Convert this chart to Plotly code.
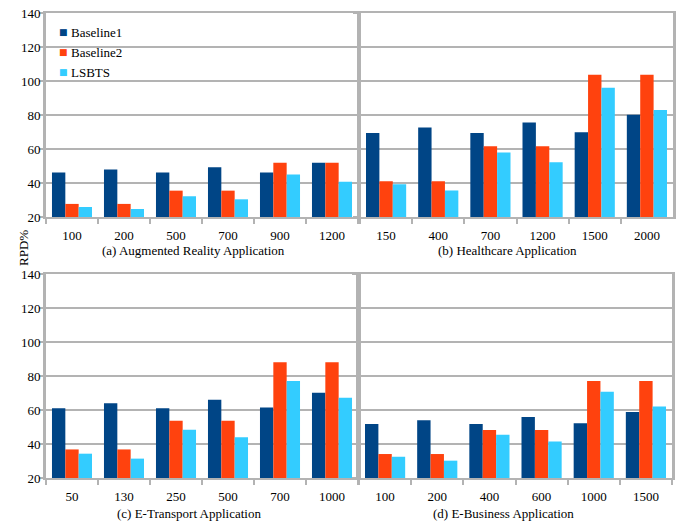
import plotly.graph_objects as go

# Problem sizes per application
cats_ar = ["100", "200", "500", "700", "900", "1200"]
cats_hc = ["150", "400", "700", "1200", "1500", "2000"]
cats_et = ["50", "130", "250", "500", "700", "1000"]
cats_eb = ["100", "200", "400", "600", "1000", "1500"]

# RPD% values per method
ar_baseline1 = [46.2, 47.9, 46.2, 49.3, 46.2, 51.9]
ar_baseline2 = [27.7, 27.7, 35.5, 35.5, 51.9, 51.9]
ar_lsbts = [25.9, 24.7, 32.2, 30.4, 45.0, 40.7]

hc_baseline1 = [69.4, 72.7, 69.4, 75.6, 69.8, 80.1]
hc_baseline2 = [41.1, 41.1, 61.6, 61.6, 103.7, 103.7]
hc_lsbts = [39.3, 35.6, 58.0, 52.2, 96.1, 83.0]

et_baseline1 = [61.1, 63.9, 61.1, 66.0, 61.5, 70.1]
et_baseline2 = [36.8, 36.8, 53.7, 53.7, 88.1, 88.1]
et_lsbts = [34.3, 31.4, 48.4, 43.9, 77.0, 67.2]

eb_baseline1 = [51.8, 53.9, 51.8, 55.9, 52.2, 58.8]
eb_baseline2 = [34.1, 34.1, 48.2, 48.2, 77.1, 77.1]
eb_lsbts = [32.5, 30.2, 45.5, 41.4, 70.8, 62.0]

panel_titles = ["(a) Augmented Reality Application", "(b) Healthcare Application",
                "(c) E-Transport Application", "(d) E-Business Application"]
method_names = ["Baseline1", "Baseline2", "LSBTS"]
colors = ["#004586", "#ff420e", "#33ccff"]

W, H = 678, 523
FONT = "Liberation Serif, Times New Roman, serif"
GRID = "#b3b3b3"

panels = [
    (cats_ar, [ar_baseline1, ar_baseline2, ar_lsbts]),
    (cats_hc, [hc_baseline1, hc_baseline2, hc_lsbts]),
    (cats_et, [et_baseline1, et_baseline2, et_lsbts]),
    (cats_eb, [eb_baseline1, eb_baseline2, eb_lsbts]),
]

# pixel boxes of the four plot areas: (left, right, top, bottom)
boxes = [(46, 358, 13, 217), (360, 673, 13, 217),
         (46, 358, 274, 478), (359, 672, 274, 478)]

fig = go.Figure()
layout = {}
for i, ((cats, series), (l, r, t, b)) in enumerate(zip(panels, boxes)):
    n = "" if i == 0 else str(i + 1)
    for j, vals in enumerate(series):
        fig.add_trace(go.Bar(
            x=cats, y=vals, name=method_names[j],
            marker=dict(color=colors[j], line=dict(width=0)),
            xaxis="x" + n, yaxis="y" + n, showlegend=False,
        ))
    layout["xaxis" + n] = dict(
        domain=[l / W, r / W], anchor="y" + n, type="category", automargin=False,
        showline=True, linecolor=GRID, linewidth=2, mirror=True,
        ticks="outside", tickson="boundaries", ticklen=5, tickcolor=GRID, tickwidth=1.5,
        ticklabelstandoff=5,
        showgrid=False, tickfont=dict(family=FONT, size=13, color="#000"),
    )
    layout["yaxis" + n] = dict(
        domain=[1 - b / H, 1 - t / H], anchor="x" + n, automargin=False,
        range=[20, 140], dtick=20, tick0=20,
        showline=True, linecolor=GRID, linewidth=3, mirror=True,
        showgrid=True, gridcolor=GRID, gridwidth=2,
        ticks="outside", ticklen=4, tickcolor=GRID, tickwidth=1.5,
        ticklabelstandoff=-4,
        showticklabels=(i % 2 == 0), zeroline=False,
        tickfont=dict(family=FONT, size=13, color="#000"),
    )

title_pos = [(193, 251), (507, 251), (189, 513), (503, 513)]
annotations = []
for txt, (x, y) in zip(panel_titles, title_pos):
    annotations.append(dict(
        text=txt, x=x / W, y=1 - y / H, xref="paper", yref="paper",
        xanchor="center", yanchor="middle", showarrow=False,
        font=dict(family=FONT, size=13, color="#000"),
    ))
annotations.append(dict(
    text="RPD%", x=23 / W, y=1 - 248 / H, xref="paper", yref="paper",
    xanchor="center", yanchor="middle", showarrow=False, textangle=-90,
    font=dict(family=FONT, size=13, color="#000"),
))

# legend key inside panel (a): small colour square followed by the method name
legend_rows = [31.5, 51.5, 72]
for name, color, yy in zip(method_names, colors, legend_rows):
    annotations.append(dict(
        text="■", x=63 / W, y=1 - yy / H, xref="paper", yref="paper",
        xanchor="center", yanchor="middle", showarrow=False,
        font=dict(family="DejaVu Sans", size=9, color=color),
    ))
    annotations.append(dict(
        text=name, x=69 / W, y=1 - (yy + 0.5) / H, xref="paper", yref="paper",
        xanchor="left", yanchor="middle", showarrow=False,
        font=dict(family=FONT, size=13, color="#000"),
    ))

fig.update_layout(
    template="none",
    width=W, height=H, margin=dict(l=0, r=0, t=0, b=0),
    paper_bgcolor="white", plot_bgcolor="white",
    barmode="group", bargap=0.23, bargroupgap=0,
    showlegend=False,
    annotations=annotations,
    **layout,
)

fig.write_html("out.html")
